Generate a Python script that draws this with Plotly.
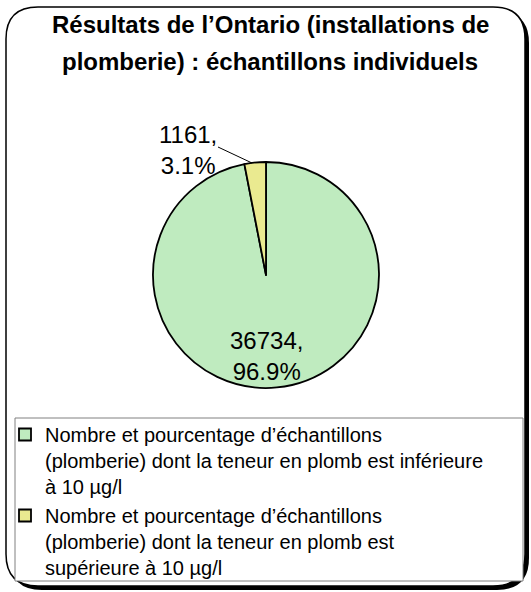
import plotly.graph_objects as go

W, H = 531, 592

title_lines = ["Résultats de l\u2019Ontario (installations de",
               "plomberie) : échantillons individuels"]
categories = ["Nombre et pourcentage d\u2019échantillons<br>(plomberie) dont la teneur en plomb est inférieure<br>à 10 µg/l",
              "Nombre et pourcentage d\u2019échantillons<br>(plomberie) dont la teneur en plomb est<br>supérieure à 10 µg/l"]
values = [36734, 1161]
percents = ["96.9%", "3.1%"]
colors = ["#BFEBBF", "#EAEA90"]

FONT = "Liberation Sans, Arial, sans-serif"


def px(x):
    return x / W


def py(y):
    return 1 - y / H


def rrect(x0, y0, x1, y1, r):
    rx, ry = r / W, r / H
    X0, X1 = px(x0), px(x1)
    Y0, Y1 = py(y0), py(y1)
    return (f"M {X0+rx} {Y0} L {X1-rx} {Y0} Q {X1} {Y0} {X1} {Y0-ry} "
            f"L {X1} {Y1+ry} Q {X1} {Y1} {X1-rx} {Y1} "
            f"L {X0+rx} {Y1} Q {X0} {Y1} {X0} {Y1+ry} "
            f"L {X0} {Y0-ry} Q {X0} {Y0} {X0+rx} {Y0} Z")


texts = [f"{v},<br>{p}" for v, p in zip(values, percents)]

fig = go.Figure(go.Pie(
    labels=categories,
    values=values,
    sort=False,
    direction="clockwise",
    rotation=0,
    marker=dict(colors=colors, line=dict(color="black", width=1.8)),
    textinfo="none",
    domain=dict(x=[px(153), px(379)], y=[py(388), py(162)]),
    hoverinfo="label+value+percent",
))

shapes = [
    dict(type="path", path=rrect(10, 11, 529, 590, 32), xref="paper", yref="paper",
         fillcolor="black", line=dict(width=0), layer="below"),
    dict(type="path", path=rrect(6, 7, 525, 586, 32), xref="paper", yref="paper",
         fillcolor="white", line=dict(color="black", width=1.5), layer="below"),
    dict(type="rect", x0=px(15), x1=px(523), y0=py(418), y1=py(581), xref="paper", yref="paper",
         fillcolor="white", line=dict(color="#808080", width=1), layer="below"),
    dict(type="line", x0=px(218), y0=py(147), x1=px(252), y1=py(163), xref="paper", yref="paper",
         line=dict(color="black", width=1)),
]

annotations = []
for i, t in enumerate(title_lines):
    annotations.append(dict(text=f"<b>{t}</b>", x=px(270), y=py([24, 62][i]), xref="paper", yref="paper",
                            xanchor="center", yanchor="middle", showarrow=False,
                            font=dict(family=FONT, size=24, color="black")))

label_pos = [(266, 356), (188, 150)]
for t, (lx, ly) in zip(texts, label_pos):
    annotations.append(dict(text=t, x=px(lx), y=py(ly), xref="paper", yref="paper",
                            xanchor="center", yanchor="middle", showarrow=False,
                            font=dict(family=FONT, size=24, color="black")))

fig.update_layout(
    width=W, height=H,
    margin=dict(l=0, r=0, t=0, b=0),
    paper_bgcolor="white",
    showlegend=True,
    legend=dict(x=px(5), y=py(415), xanchor="left", yanchor="top", valign="top",
                font=dict(family=FONT, size=20, color="black"),
                bgcolor="rgba(0,0,0,0)", borderwidth=0, tracegroupgap=0),
    shapes=shapes,
    annotations=annotations,
)

fig.write_html("out.html", config={"displayModeBar": False},
               post_script="document.body.style.margin='0';document.body.style.overflow='hidden';")
